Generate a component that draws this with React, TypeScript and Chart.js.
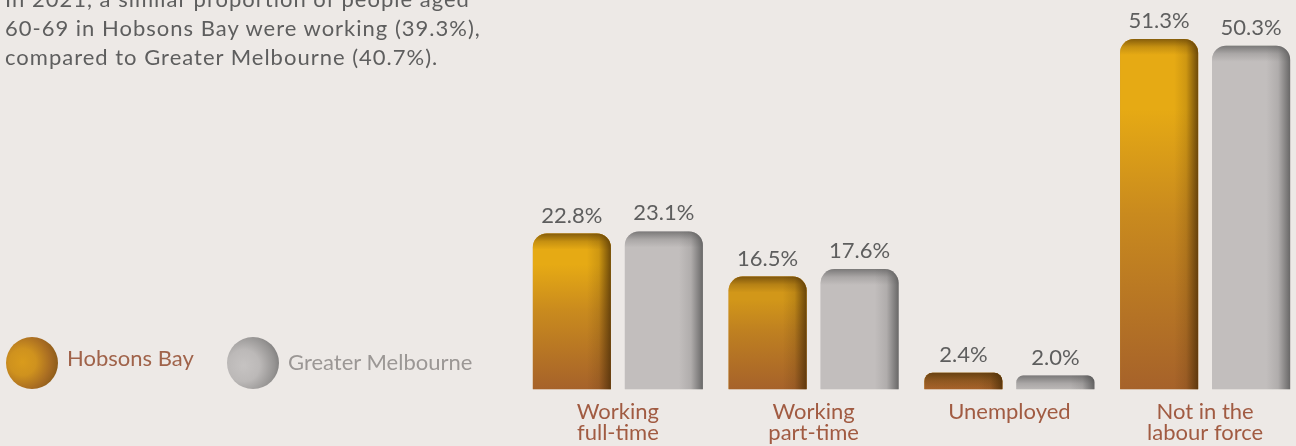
import React, { useEffect, useRef } from 'react';
import { Chart, registerables } from 'chart.js';

Chart.register(...registerables);

// ---- data ----
const categories: (string | string[])[] = [
  ['Working', 'full-time'],
  ['Working', 'part-time'],
  'Unemployed',
  ['Not in the', 'labour force'],
];
const seriesNames = ['Hobsons Bay', 'Greater Melbourne'];
const hobsonsBay = [22.8, 16.5, 2.4, 51.3];
const greaterMelbourne = [23.1, 17.6, 2.0, 50.3];
const descriptionLines = [
  'In 2021, a similar proportion of people aged',
  '60-69 in Hobsons Bay were working (39.3%),',
  'compared to Greater Melbourne (40.7%).',
];

const FONT = 'Lato, "Open Sans", sans-serif';
const BG = '#EDE9E6';
const RADIUS = 14;

const GOLD = [230, 170, 20];
const BROWN = [150, 92, 40];
const BOTTOM = [166, 98, 42];

const mix = (a: number[], b: number[], t: number) =>
  `rgb(${a.map((v, i) => Math.round(v + (b[i] - v) * t)).join(',')})`;
const mixArr = (a: number[], b: number[], t: number) => a.map((v, i) => v + (b[i] - v) * t);

const shadePlugin = {
  id: 'shade',
  afterDatasetsDraw(chart: any) {
    const ctx = chart.ctx as CanvasRenderingContext2D;
    chart.data.datasets.forEach((ds: any, di: number) => {
      const meta = chart.getDatasetMeta(di);
      meta.data.forEach((el: any) => {
        const { x, y, base, width } = el.getProps(['x', 'y', 'base', 'width'], true);
        const left = x - width / 2;
        const right = x + width / 2;
        const top = Math.min(y, base);
        const bottom = Math.max(y, base);
        const h = bottom - top;
        const r = Math.min(RADIUS, width / 2, h / 2);
        ctx.save();
        ctx.beginPath();
        ctx.moveTo(left, bottom);
        ctx.lineTo(left, top + r);
        ctx.arcTo(left, top, left + r, top, r);
        ctx.lineTo(right - r, top);
        ctx.arcTo(right, top, right, top + r, r);
        ctx.lineTo(right, bottom);
        ctx.closePath();
        ctx.clip();
        let dark: string;
        if (di === 0) {
          const t = Math.min(1, h / 150);
          const topCol = mixArr(BROWN, GOLD, t);
          const g = ctx.createLinearGradient(0, top, 0, bottom);
          g.addColorStop(0, mix(topCol, topCol, 0));
          g.addColorStop(0.2, mix(topCol, topCol, 0));
          g.addColorStop(0.5, mix(topCol, BOTTOM, 0.45));
          g.addColorStop(1, mix(BOTTOM, BOTTOM, 0));
          ctx.fillStyle = g;
          ctx.fillRect(left - 1, top - 1, width + 2, h + 2);
          dark = '70,42,5';
        } else {
          ctx.fillStyle = '#C2BEBD';
          ctx.fillRect(left - 1, top - 1, width + 2, h + 2);
          dark = '75,75,75';
        }
        // top bevel
        const tg = ctx.createLinearGradient(0, top, 0, top + 16);
        tg.addColorStop(0, `rgba(${dark},0.6)`);
        tg.addColorStop(0.5, `rgba(${dark},0.2)`);
        tg.addColorStop(1, `rgba(${dark},0)`);
        ctx.fillStyle = tg;
        ctx.fillRect(left - 1, top - 1, width + 2, Math.min(18, h + 2));
        // right edge
        const rg = ctx.createLinearGradient(right - 24, 0, right, 0);
        rg.addColorStop(0, `rgba(${dark},0)`);
        rg.addColorStop(0.5, `rgba(${dark},0.15)`);
        rg.addColorStop(1, `rgba(${dark},0.75)`);
        ctx.fillStyle = rg;
        ctx.fillRect(right - 24, top - 1, 25, h + 2);
        ctx.restore();
      });
    });
    // value labels
    ctx.save();
    ctx.font = `22px ${FONT}`;
    ctx.fillStyle = '#5E5E5E';
    ctx.textAlign = 'center';
    ctx.textBaseline = 'alphabetic';
    chart.data.datasets.forEach((ds: any, di: number) => {
      const meta = chart.getDatasetMeta(di);
      meta.data.forEach((el: any, i: number) => {
        const { x, y } = el.getProps(['x', 'y'], true);
        ctx.fillText(`${Number(ds.data[i]).toFixed(1)}%`, x, y - 11);
      });
    });
    ctx.restore();
  },
};

function BarChart() {
  const ref = useRef<HTMLCanvasElement>(null);
  useEffect(() => {
    const chart = new Chart(ref.current!, {
      type: 'bar',
      data: {
        labels: categories as any,
        datasets: [
          {
            label: seriesNames[0],
            data: hobsonsBay,
            backgroundColor: '#C88A22',
            borderWidth: 0,
            borderRadius: { topLeft: RADIUS, topRight: RADIUS, bottomLeft: 0, bottomRight: 0 },
            borderSkipped: 'start',
          },
          {
            label: seriesNames[1],
            data: greaterMelbourne,
            backgroundColor: '#C2BEBD',
            borderWidth: 0,
            borderRadius: { topLeft: RADIUS, topRight: RADIUS, bottomLeft: 0, bottomRight: 0 },
            borderSkipped: 'start',
          },
        ],
      },
      options: {
        responsive: false,
        animation: false,
        maintainAspectRatio: false,
        layout: { padding: { left: 520, right: 1, top: 0, bottom: -9 } },
        datasets: {
          bar: { categoryPercentage: 0.94, barPercentage: 0.848 },
        } as any,
        plugins: {
          legend: { display: false },
          tooltip: { enabled: false },
        },
        scales: {
          x: {
            grid: { display: false, drawTicks: false },
            border: { display: false },
            ticks: {
              color: '#A15B42',
              font: { family: FONT, size: 22, lineHeight: 0.95 },
              padding: 12,
              maxRotation: 0,
              autoSkip: false,
            },
          },
          y: { display: false, min: 0, max: 57 },
        },
      },
      plugins: [shadePlugin],
    });
    return () => chart.destroy();
  }, []);
  return (
    <canvas
      ref={ref}
      width={1304}
      height={446}
      style={{ position: 'absolute', left: 0, top: 0, width: 1304, height: 446 }}
    />
  );
}

export default function App() {
  const circle = (bg: string, left: number): React.CSSProperties => ({
    position: 'absolute',
    left,
    top: 337,
    width: 52,
    height: 52,
    borderRadius: '50%',
    background: bg,
  });
  return (
    <div
      style={{
        position: 'fixed',
        left: 0,
        top: 0,
        width: 1296,
        height: 446,
        overflow: 'hidden',
        background: BG,
        fontFamily: FONT,
      }}
    >
      <BarChart />
      <div
        style={{
          position: 'absolute',
          left: 5,
          top: -16,
          fontSize: 22,
          lineHeight: '29px',
          letterSpacing: '1px',
          color: '#5E5E5E',
          whiteSpace: 'nowrap',
        }}
      >
        {descriptionLines.map((l, i) => (
          <div key={i}>{l}</div>
        ))}
      </div>
      <div
        style={circle(
          'radial-gradient(circle at 32% 48%, #D99B1C 0%, #CF921E 30%, #A86C22 62%, #6E4A10 100%)',
          6
        )}
      />
      <div
        style={{
          position: 'absolute',
          left: 67,
          top: 345.3,
          fontSize: 22,
          lineHeight: 1.2,
          color: '#A0634A',
          whiteSpace: 'nowrap',
        }}
      >
        {seriesNames[0]}
      </div>
      <div
        style={circle(
          'radial-gradient(circle at 32% 55%, #C6C3C2 0%, #BCB9B8 35%, #959392 68%, #5F5F5F 100%)',
          227
        )}
      />
      <div
        style={{
          position: 'absolute',
          left: 288,
          top: 349.3,
          fontSize: 22,
          lineHeight: 1.2,
          color: '#9B9795',
          whiteSpace: 'nowrap',
        }}
      >
        {seriesNames[1]}
      </div>
    </div>
  );
}
